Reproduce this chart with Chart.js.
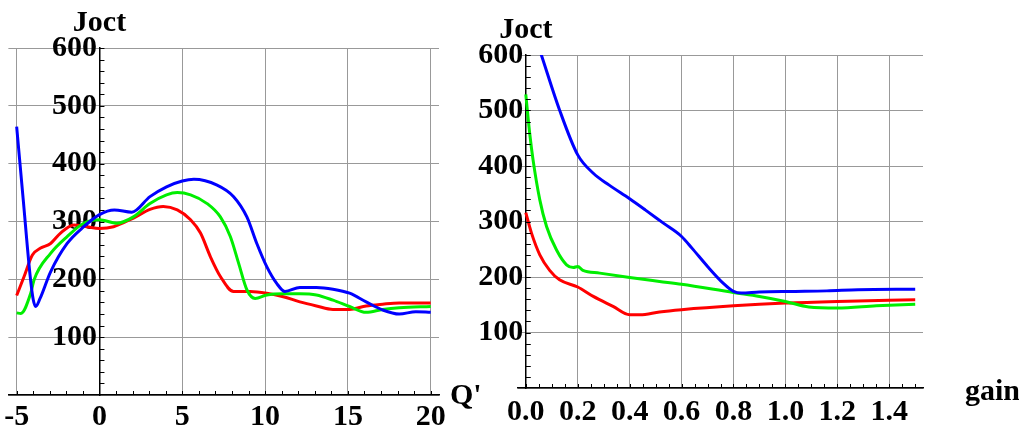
<!DOCTYPE html>
<html>
<head>
<meta charset="utf-8">
<script src="https://cdn.jsdelivr.net/npm/chart.js@4/dist/chart.umd.min.js"></script>
<style>
  html, body { margin: 0; padding: 0; background: #fff; }
  body { width: 1019px; height: 433px; position: relative; overflow: hidden; }
  canvas { position: absolute; top: 0; }
  #left-chart { left: 0; }
  #right-chart { left: 466px; }
</style>
</head>
<body>
<canvas id="left-chart" width="480" height="433"></canvas>
<canvas id="right-chart" width="553" height="433"></canvas>
<script>
// left panel: Joct against Q'
const qBlueX = [-5, -4.6, -4.2, -4.0, -3.85, -3.6, -2.95, -1.95, -0.95, 0, 0.9, 1.95, 3.05, 4.05, 5.0, 5.7, 7.1, 8.1, 8.9, 9.5, 10.1, 10.7, 11.2, 12.1, 13.1, 14.1, 15.1, 16.1, 17.1, 18.1, 19.1, 20];
const qBlueY = [464, 337, 210, 165, 153, 166, 213, 262, 291, 312, 320, 316, 343, 360, 370, 373, 363, 343, 308, 262, 222, 193, 179, 186, 186, 183, 176, 161, 147, 140, 144, 143];
const qGreenX = [-5, -4.75, -4.15, -3.95, -2.95, -1.95, -0.95, 0, 1.05, 2.05, 3.05, 4.05, 4.7, 5.5, 6.5, 7.3, 7.9, 8.4, 8.9, 9.4, 10.1, 11.1, 12.1, 13.1, 14.1, 15.1, 16.1, 17.1, 18.1, 20];
const qGreenY = [142, 141, 176, 199, 245, 274, 297, 303, 297, 308, 331, 346, 350, 346, 331, 308, 274, 228, 182, 167, 173, 175, 175, 173, 164, 153, 143, 148, 151, 153];
const qRedX = [-5, -4.55, -4.05, -3.55, -2.95, -2.35, -1.55, -0.75, 0, 0.85, 2.05, 3.05, 3.85, 4.7, 5.5, 6.1, 6.7, 7.3, 8.1, 9.1, 10.1, 11.1, 12.1, 13.1, 14.1, 15.1, 16.1, 17.1, 18.1, 20];
const qRedY = [172, 205, 242, 254, 262, 280, 294, 291, 288, 291, 306, 321, 326, 320, 303, 280, 239, 205, 179, 179, 176, 170, 161, 154, 148, 148, 154, 157, 159, 159];

// right panel: Joct against gain
const gBlueX = [0, 0.06, 0.13, 0.2, 0.26, 0.32, 0.4, 0.46, 0.53, 0.6, 0.64, 0.7, 0.76, 0.8, 0.83, 0.9, 1.03, 1.16, 1.28, 1.5];
const gBlueY = [685, 600, 501, 420, 387, 366, 341, 321, 297, 273, 252, 219, 189, 174, 171, 173, 174, 175, 177, 178];
const gGreenX = [0, 0.015, 0.028, 0.054, 0.08, 0.118, 0.157, 0.183, 0.2, 0.22, 0.285, 0.4, 0.515, 0.6, 0.8, 0.9, 1.0, 1.09, 1.2, 1.35, 1.5];
const gGreenY = [529, 459, 411, 339, 291, 249, 222, 217, 219, 212, 207, 199, 192, 187, 172, 165, 156, 146, 144, 148, 151];
const gRedX = [0, 0.022, 0.054, 0.092, 0.13, 0.2, 0.26, 0.336, 0.4, 0.44, 0.515, 0.6, 0.8, 1.0, 1.2, 1.5];
const gRedY = [316, 279, 240, 212, 195, 182, 165, 147, 132, 132, 137, 141, 148, 153, 156, 159];

const yTicks = [100, 200, 300, 400, 500, 600];

Chart.defaults.font.family = '"Liberation Serif", "Times New Roman", serif';
Chart.defaults.font.weight = 'bold';
Chart.defaults.font.size = 30;
Chart.defaults.color = '#000';

function points(xs, ys) {
  return xs.map((x, i) => ({ x: x, y: ys[i] }));
}

function series(xs, ys, color) {
  return {
    data: points(xs, ys),
    borderColor: color,
    borderWidth: 3,
    pointRadius: 0,
    cubicInterpolationMode: 'monotone',
    fill: false
  };
}

// small inward ticks and the axis names, like the Mathematica frame
const axisDecor = {
  id: 'axisDecor',
  afterDraw(chart, args, opts) {
    const ctx = chart.ctx;
    const xs = chart.scales.x, ys = chart.scales.y;
    const x0 = xs.getPixelForValue(0), y0 = ys.getPixelForValue(0);
    ctx.save();
    ctx.strokeStyle = '#000';
    ctx.lineWidth = 1;
    ctx.beginPath();
    for (let v = Math.ceil(xs.min / opts.xMinor) * opts.xMinor; v <= xs.max; v += opts.xMinor) {
      const px = Math.round(xs.getPixelForValue(v)) + 0.5;
      ctx.moveTo(px, y0);
      ctx.lineTo(px, y0 - 4);
    }
    for (let v = opts.yMinor; v <= ys.max; v += opts.yMinor) {
      const py = Math.round(ys.getPixelForValue(v)) + 0.5;
      ctx.moveTo(x0, py);
      ctx.lineTo(x0 + 5, py);
    }
    ctx.stroke();

    ctx.fillStyle = '#000';
    ctx.font = 'bold 30px "Liberation Serif", "Times New Roman", serif';
    ctx.textAlign = 'center';
    ctx.textBaseline = 'alphabetic';
    ctx.fillText(opts.yName, x0, chart.chartArea.top - 17);
    ctx.textAlign = 'left';
    ctx.fillText(opts.xName, chart.chartArea.right + opts.xNameGap, y0 + opts.xNameDrop);
    ctx.restore();
  }
};

function makeChart(el, datasets, xOpts, decor, padding) {
  return new Chart(el, {
    type: 'line',
    data: { datasets: datasets },
    options: {
      responsive: false,
      animation: false,
      layout: { padding: padding },
      plugins: { legend: { display: false }, tooltip: { enabled: false }, axisDecor: decor },
      scales: {
        x: {
          type: 'linear',
          position: { y: 0 },
          min: xOpts.min,
          max: xOpts.max,
          grid: { color: '#999', lineWidth: 1, drawTicks: false },
          border: { color: '#000', width: 1.5 },
          ticks: {
            stepSize: xOpts.step,
            includeBounds: false,
            padding: xOpts.pad,
            maxRotation: 0,
            autoSkip: false,
            callback: xOpts.label
          }
        },
        y: {
          type: 'linear',
          position: { x: 0 },
          min: 0,
          max: 600,
          grid: { color: '#999', lineWidth: 1, drawTicks: false },
          border: { color: '#000', width: 1.5 },
          ticks: {
            stepSize: 100,
            callback: v => yTicks.includes(v) ? v + '\u200A' : ''
          }
        }
      }
    },
    plugins: [axisDecor]
  });
}

makeChart(document.getElementById('left-chart'), [
  series(qBlueX, qBlueY, '#0000ff'),
  series(qGreenX, qGreenY, '#00ee00'),
  series(qRedX, qRedY, '#ff0000')
], { min: -5.5, max: 20.5, step: 5, pad: 4, label: v => String(v) },
  { xMinor: 1, yMinor: 20, yName: 'Joct', xName: "Q'", xNameGap: 11, xNameDrop: 9 },
  { left: 8, right: 41, top: 48, bottom: 38 });

makeChart(document.getElementById('right-chart'), [
  series(gBlueX, gBlueY, '#0000ff'),
  series(gGreenX, gGreenY, '#00ee00'),
  series(gRedX, gRedY, '#ff0000')
], { min: -0.03, max: 1.53, step: 0.2, pad: 6, label: v => v.toFixed(1) },
  { xMinor: 0.05, yMinor: 20, yName: 'Joct', xName: 'gain', xNameGap: 42, xNameDrop: 12 },
  { left: 52, right: 96, top: 55, bottom: 45 });
</script>
</body>
</html>
